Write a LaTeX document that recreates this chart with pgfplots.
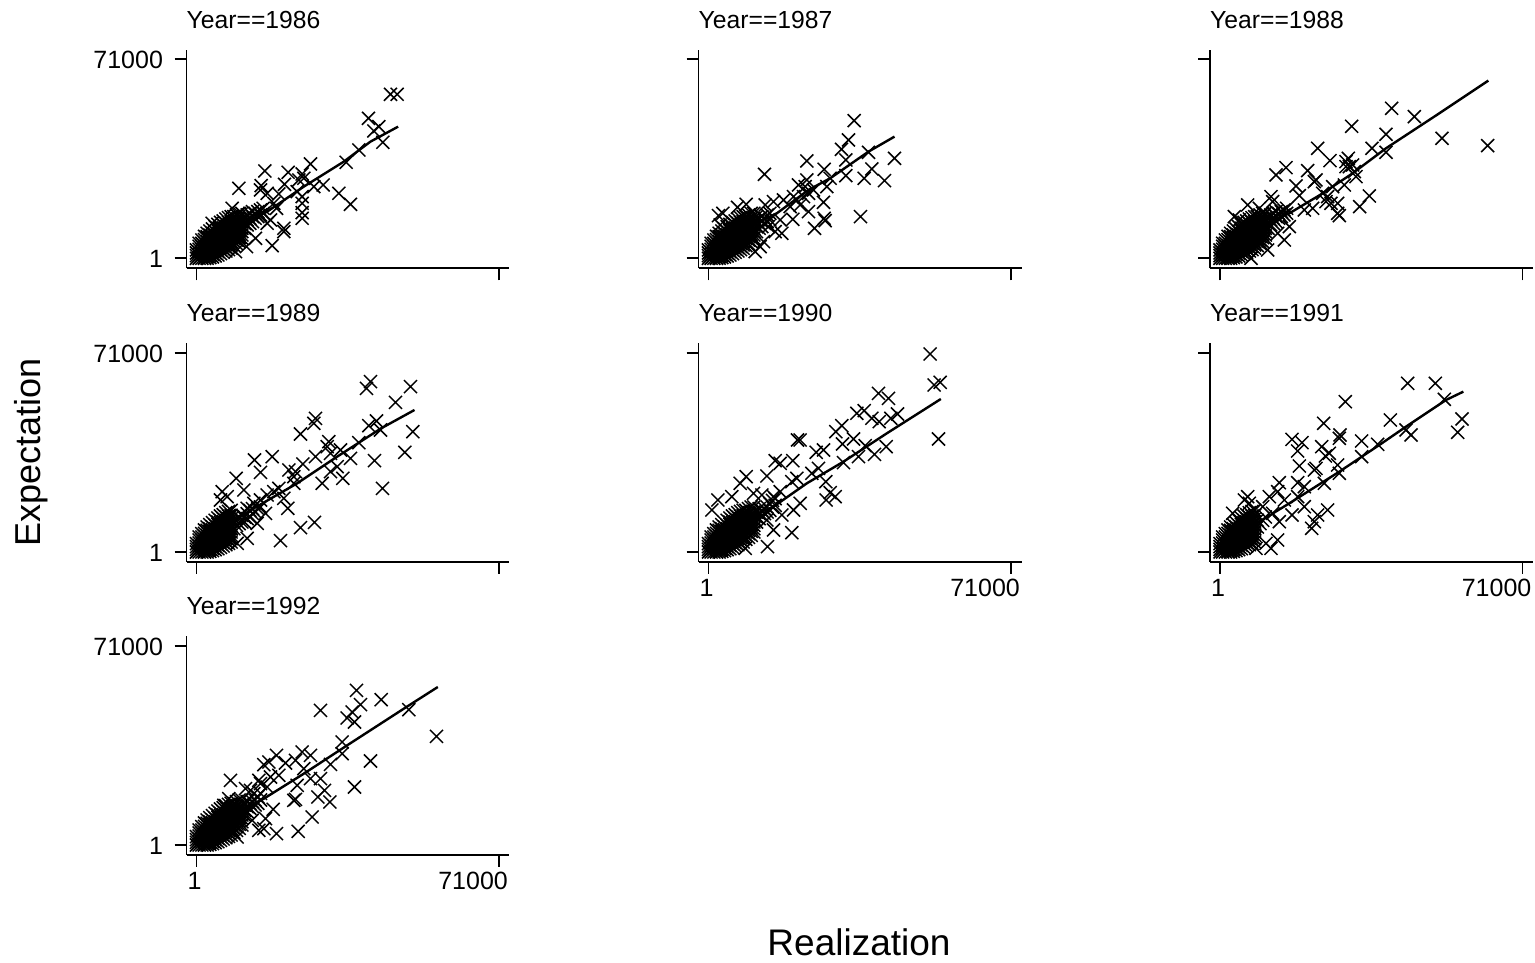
\documentclass[border=0pt]{standalone}
\usepackage{pgfplots}
\pgfplotsset{compat=1.18}
\usepackage{pgfplotstable}
\usepackage{fontspec}
\setmainfont{Liberation Sans}
\pgfplotstableread[row sep=\\]{x y\\
0 0\\0 8\\0 16\\0 25\\8 0\\8 9\\8 18\\8 27\\8 36\\8 45\\16 0\\16 9\\16 18\\16 27\\16 36\\16 45\\16 55\\
24 0\\24 2\\24 11\\24 20\\24 29\\24 38\\24 47\\24 56\\24 66\\32 0\\32 5\\32 14\\32 23\\32 32\\32 41\\32 50\\32 59\\32 65\\32 75\\
40 2\\40 8\\40 17\\40 26\\40 35\\40 44\\40 53\\40 62\\40 70\\40 82\\48 4\\48 12\\48 21\\48 30\\48 39\\48 48\\48 57\\48 66\\48 75\\48 88\\
56 7\\56 16\\56 25\\56 34\\56 43\\56 52\\56 61\\56 70\\56 80\\56 95\\64 10\\64 20\\64 29\\64 38\\64 47\\64 56\\64 65\\64 74\\64 83\\64 90\\64 102\\
72 14\\72 25\\72 34\\72 43\\72 52\\72 61\\72 70\\72 79\\72 88\\72 95\\72 108\\80 18\\80 28\\80 37\\80 46\\80 55\\80 64\\80 73\\80 82\\80 91\\80 100\\80 112\\
88 22\\88 32\\88 41\\88 50\\88 59\\88 68\\88 77\\88 86\\88 95\\88 105\\88 118\\96 26\\96 36\\96 45\\96 54\\96 63\\96 72\\96 81\\96 90\\96 99\\96 108\\96 122\\
104 30\\104 40\\104 50\\104 60\\104 70\\104 80\\104 90\\104 100\\104 110\\104 125\\
}\coreA
\pgfplotstableread[row sep=\\]{x y\\
112 38\\112 50\\112 60\\112 70\\112 80\\112 90\\112 100\\112 110\\112 125\\
120 44\\120 55\\120 65\\120 75\\120 85\\120 95\\120 105\\120 115\\120 130\\128 50\\128 62\\128 72\\128 82\\128 92\\128 102\\128 112\\128 120\\128 135\\
136 60\\136 70\\136 80\\136 90\\136 100\\136 110\\136 120\\136 135\\
}\coreB
\pgfplotsset{
  panel/.style={scale only axis,width=323pt,height=218.5pt,
    xmin=-30,xmax=939,ymin=-30,ymax=625.5,
    axis x line=bottom,axis y line=left,axis line style={-,line width=1.6pt},
    xtick={0,907},ytick={0,597},tick align=outside,major tick length=12pt,
    tick style={line width=1.6pt,black},
    xticklabels={},yticklabels={},
    clip=false,
    tick label style={font=\fontsize{25}{28}\selectfont},
    xticklabel style={yshift=-2pt},
    yticklabel style={xshift=-8pt,yshift=-1pt},
  },
  xl/.style={xticklabels={{\makebox[0pt]{\hspace{-4pt}1}},{\makebox[0pt][r]{71000\hspace{-9pt}}}}},
  yl/.style={yticklabels={1,71000}},
  pts/.style={only marks,mark=x,mark size=9.2pt,mark options={line width=1.5pt,black}},
  fit/.style={black,line width=2.4pt,no marks},
}
\newcommand{\ptitle}[1]{\node[anchor=base west,inner sep=0pt,font=\fontsize{24.7}{28}\selectfont] at (axis cs:-30,690) {#1};}
\begin{document}
\begin{tikzpicture}[x=1pt,y=1pt]
\path[use as bounding box] (0,0) rectangle (1535,963);
\begin{axis}[panel,yl,at={(186.5pt,694.7pt)},anchor=south west]
\addplot[pts] table {\coreA};
\addplot[pts] table {\coreB};
\addplot[pts] coordinates {(582,492)(602,492)(516,420)(547,395)(532,382)(559,348)(487,325)(449,288)(342,283)(205,262)(275,258)(317,253)(127,210)(194,218)(192,205)(264,222)(307,235)(322,240)(380,220)(427,195)(462,162)(352,215)(247,193)(212,195)(302,200)(317,165)(317,185)(317,120)(317,137)(240,150)(262,90)(262,80)(227,38)(212,105)(177,60)(107,150)(47,105)(232,165)(150,35)(117,20)(222,115)
(144,90)(144,105)(144,120)(152,100)(152,115)(152,130)(160,105)(160,120)(160,135)(168,110)(168,125)(168,140)(176,120)(176,135)(184,125)(184,140)(192,130)(192,145)(200,135)(200,150)};
\addplot[fit] coordinates {(0,5)(42,35)(122,95)(212,140)(322,215)(442,290)(522,350)(605,395)};
\ptitle{Year==1986}
\end{axis}
\begin{axis}[panel,at={(698.5pt,694.7pt)},anchor=south west]
\addplot[pts] table {\coreA};
\addplot[pts] table {\coreB};
\addplot[pts] coordinates {(437,413)(420,355)(399,327)(412,295)(480,318)(558,300)(295,292)(347,267)(490,268)(168,252)(412,248)(467,240)(528,233)(365,240)(295,235)(270,220)(355,215)(290,215)(315,205)(345,168)(275,160)(300,140)(347,120)(350,113)(456,125)(318,90)(253,117)(220,75)(200,80)(165,50)(140,20)(30,128)(43,135)(87,153)(113,162)(170,160)(195,170)(35,100)(225,175)(245,155)(215,115)(180,95)(265,175)(255,185)(285,185)(300,195)(155,35)
(144,80)(144,95)(144,110)(144,125)(152,90)(152,105)(152,120)(160,95)(160,110)(160,125)(168,105)(168,120)(176,110)(176,130)(184,115)(184,135)};
\addplot[fit] coordinates {(0,5)(60,45)(120,95)(205,135)(300,205)(365,240)(480,320)(558,365)};
\ptitle{Year==1987}
\end{axis}
\begin{axis}[panel,at={(1210pt,694.7pt)},anchor=south west]
\addplot[pts] table {\coreA};
\addplot[pts] table {\coreB};
\addplot[pts] coordinates {(515,450)(583,425)(395,396)(498,372)(666,360)(803,338)(456,330)(498,318)(293,330)(330,293)(385,300)(378,290)(388,275)(403,260)(408,245)(198,272)(168,250)(263,263)(288,235)(283,230)(228,217)(238,188)(153,185)(158,170)(83,160)(448,187)(419,155)(373,220)(338,215)(323,185)(308,195)(353,165)(333,165)(353,135)(358,128)(253,145)(278,150)(43,125)(58,115)(118,150)(193,55)(173,75)(143,25)(208,95)(93,0)(318,170)(378,275)(398,280)
(144,90)(144,105)(144,120)(152,100)(152,115)(152,130)(160,105)(160,120)(160,135)(168,110)(168,125)(168,140)(176,120)(176,135)(184,125)(184,140)(192,130)(192,145)(200,135)(200,150)};
\addplot[fit] coordinates {(0,5)(100,90)(208,135)(300,190)(398,255)(498,330)(658,435)(805,533)};
\ptitle{Year==1988}
\end{axis}
\begin{axis}[panel,yl,at={(186.5pt,401pt)},anchor=south west]
\addplot[pts] table {\coreA};
\addplot[pts] coordinates {(522,511)(510,491)(642,496)(597,449)(357,401)(352,386)(312,354)(540,393)(517,379)(552,366)(649,361)(625,299)(487,328)(397,331)(392,316)(432,306)(227,286)(174,276)(357,286)(462,281)(534,274)(319,264)(192,239)(277,246)(402,296)(422,256)(402,241)(377,206)(439,221)(558,191)(119,221)(142,186)(77,181)(92,166)(72,156)(247,191)(292,206)(274,131)(262,161)(354,89)(312,73)(252,34)(207,116)(182,86)(152,41)(122,26)(172,146)(192,156)(152,131)(212,171)(232,181)(297,241)(292,226)
(112,70)(112,90)(120,80)(120,100)(128,85)(128,105)(136,90)(136,110)(144,90)(144,105)(152,100)(152,115)(160,105)(160,125)(168,115)(168,130)(176,120)(184,130)(192,135)};
\addplot[fit] coordinates {(0,5)(100,85)(172,131)(302,206)(422,286)(554,371)(654,426)};
\ptitle{Year==1989}
\end{axis}
\begin{axis}[panel,xl,at={(698.5pt,401pt)},anchor=south west]
\addplot[pts] table {\coreA};
\addplot[pts] table {\coreB};
\addplot[pts] coordinates {(665,594)(695,509)(677,501)(510,476)(540,461)(445,416)(467,424)(567,414)(547,401)(490,401)(512,391)(400,379)(382,361)(435,339)(402,324)(690,339)(267,336)(275,336)(345,306)(323,299)(533,316)(470,319)(498,293)(450,286)(200,274)(253,274)(405,268)(215,266)(330,251)(310,236)(175,228)(113,226)(95,206)(265,221)(250,211)(352,211)(28,156)(70,166)(10,126)(380,166)(365,178)(353,156)(275,146)(255,126)(220,111)(195,166)(215,181)(160,171)(135,176)(250,58)(195,66)(177,16)(110,11)(175,96)
(144,90)(144,105)(144,120)(152,100)(152,115)(152,130)(160,110)(160,125)(168,115)(168,130)(176,120)(176,135)(184,125)(184,145)(192,135)(192,155)(200,140)(200,160)};
\addplot[fit] coordinates {(0,5)(100,95)(195,136)(295,206)(405,271)(535,356)(697,459)};
\ptitle{Year==1990}
\end{axis}
\begin{axis}[panel,xl,at={(1210pt,401pt)},anchor=south west]
\addplot[pts] table {\coreA};
\addplot[pts] coordinates {(563,506)(646,506)(673,458)(376,451)(311,386)(726,399)(713,359)(511,396)(360,351)(358,341)(216,338)(246,328)(233,303)(305,316)(425,333)(473,323)(558,366)(573,351)(328,296)(316,288)(425,286)(238,258)(353,261)(283,246)(288,251)(358,236)(178,208)(233,208)(173,181)(313,206)(253,196)(83,166)(73,156)(38,116)(88,146)(193,156)(253,136)(216,111)(323,126)(293,111)(283,91)(275,71)(173,36)(153,11)(138,26)(178,91)(148,166)(128,136)(108,11)(233,166)(158,116)
(112,75)(112,95)(120,85)(128,95)(136,105)};
\addplot[fit] coordinates {(0,5)(100,80)(208,146)(358,241)(478,321)(558,376)(678,456)(730,481)};
\ptitle{Year==1991}
\end{axis}
\begin{axis}[panel,xl,yl,at={(186.5pt,108pt)},anchor=south west]
\addplot[pts] table {\coreA};
\addplot[pts] table {\coreB};
\addplot[pts] coordinates {(480,464)(554,436)(492,421)(372,404)(467,399)(637,406)(452,381)(474,369)(720,326)(437,309)(437,274)(240,269)(317,279)(342,269)(522,252)(202,241)(217,249)(267,246)(297,254)(402,242)(322,229)(247,209)(102,194)(187,194)(372,199)(342,199)(474,174)(302,179)(384,164)(364,144)(400,129)(297,137)(292,134)(230,107)(347,84)(305,41)(240,34)(207,79)(202,49)(187,44)(167,74)(122,24)(97,139)(82,119)(222,204)(212,174)(172,154)(147,169)(162,164)(192,184)
(144,90)(144,105)(144,120)(152,100)(152,115)(152,130)(160,110)(160,125)(168,115)(168,130)(176,120)(176,135)(184,125)(184,145)(192,135)(192,155)};
\addplot[fit] coordinates {(0,5)(100,85)(202,139)(322,214)(452,299)(622,409)(724,474)};
\ptitle{Year==1992}
\end{axis}
\node[rotate=90,font=\fontsize{36}{40}\selectfont] at (31,510.5) {Expectation};
\node[font=\fontsize{37}{40}\selectfont] at (859,21) {Realization};
\end{tikzpicture}
\end{document}
